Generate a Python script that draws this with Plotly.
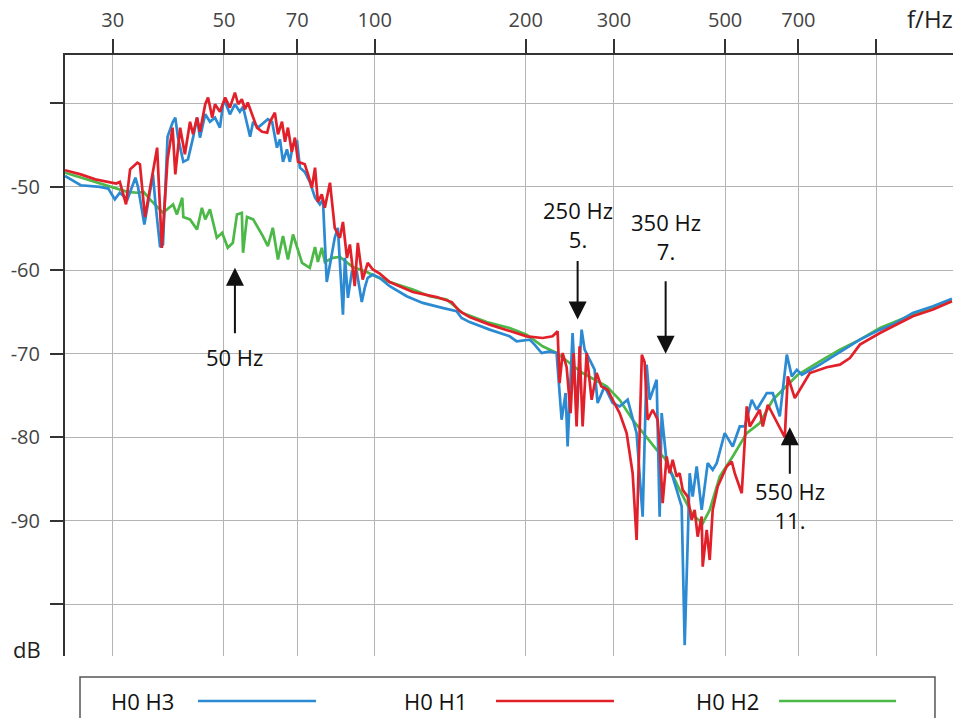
import math
import plotly.graph_objects as go

# ---------------- data ----------------
freq_h1 = [24.1, 25.9, 27.7, 29.7, 30.5, 31.0, 31.9, 32.5, 33.6, 34.0, 34.8, 36.8, 37.6, 38.6, 39.5, 40.0,
           40.9, 41.8, 42.8, 43.4, 44.2, 44.8, 45.9, 46.5, 47.4, 48.0, 49.1, 50.3, 51.4, 52.6, 53.4, 54.3,
           55.1, 55.8, 56.9, 58.2, 59.6, 61.0, 61.8, 63.2, 64.1, 65.3, 66.2, 67.1, 68.3, 69.3, 70.3, 72.5,
           73.6, 74.9, 76.0, 77.0, 78.4, 79.5, 81.4, 83.2, 85.2, 86.4, 88.0, 89.2, 91.2, 92.5, 94.6, 96.8,
           99.1, 102.3, 107.1, 119.1, 132.9, 142.4, 147.7, 154.6, 169.5, 185.8, 200.9, 216.2, 226.3, 231.6,
           233.7, 237.0, 241.4, 245.8, 249.3, 252.7, 256.2, 259.8, 264.6, 270.8, 277.1, 283.0, 291.4, 298.2,
           307.9, 318.0, 326.9, 332.9, 341.0, 345.4, 350.2, 358.4, 366.7, 370.1, 375.2, 382.2, 387.5, 392.9,
           400.1, 405.7, 411.4, 420.9, 428.7, 434.7, 440.7, 448.9, 451.0, 459.4, 465.8, 472.2, 483.2, 503.6,
           515.3, 522.5, 539.6, 552.2, 559.8, 586.2, 594.3, 608.2, 657.6, 666.7, 688.5, 704.6, 737.7, 797.7,
           846.9, 886.8, 928.5, 1018, 1080, 1184, 1299, 1417]
db_h1 = [-48.0, -48.5, -49.1, -49.5, -49.6, -49.4, -52.1, -47.9, -47.1, -47.3, -53.6, -45.3, -57.3, -46.7, -42.9, -48.5,
         -42.9, -46.1, -42.2, -43.7, -41.7, -43.4, -40.1, -39.3, -41.7, -40.1, -41.0, -39.3, -40.5, -38.7, -40.1, -39.5,
         -40.7, -39.9, -41.3, -42.9, -43.4, -43.5, -42.2, -41.1, -43.7, -42.2, -44.6, -42.9, -45.8, -44.1, -47.0, -47.3,
         -48.5, -50.1, -47.7, -51.8, -50.9, -52.5, -49.5, -54.9, -56.1, -54.2, -58.5, -56.9, -61.9, -56.7, -61.1, -59.1,
         -59.9, -60.4, -61.4, -62.6, -63.2, -63.8, -64.9, -65.6, -66.5, -67.3, -67.9, -68.1, -67.9, -67.3,
         -73.5, -69.9, -71.6, -77.1, -69.9, -78.7, -69.1, -78.7, -69.9, -75.5, -72.3, -73.9, -74.3, -75.5,
         -77.1, -79.5, -84.3, -92.3, -70.1, -71.0, -77.9, -76.7, -77.9, -81.1, -87.9, -82.3, -84.3, -82.7,
         -84.7, -84.3, -86.3, -87.1, -89.9, -88.7, -91.9, -89.5, -95.5, -91.1, -94.7, -88.7, -85.9, -83.5,
         -82.9, -84.3, -86.7, -76.3, -78.7, -76.7, -78.7, -76.1, -80.0, -72.7, -75.3, -74.3, -72.3, -71.6,
         -71.3, -70.5, -68.9, -67.5, -66.7, -65.5, -64.7, -63.7]

freq_h3 = [24.1, 25.9, 28.3, 29.4, 30.3, 31.0, 32.1, 33.3, 33.7, 34.7, 36.1, 36.5, 37.3, 37.8, 38.6, 39.5,
           40.0, 40.5, 41.5, 42.4, 43.4, 44.2, 44.8, 45.9, 46.9, 48.0, 49.1, 49.8, 50.3, 51.4, 52.6, 53.8,
           54.6, 56.4, 57.2, 58.5, 61.2, 62.4, 63.8, 64.7, 65.6, 66.8, 67.7, 68.7, 70.0, 70.9, 72.5, 74.2,
           76.0, 77.7, 78.8, 80.2, 81.4, 83.2, 84.4, 86.4, 87.2, 88.4, 90.0, 92.1, 94.2, 95.5, 96.8, 99.1,
           102.3, 107.1, 115.8, 124.6, 136.4, 145.6, 149.0, 154.6, 169.5, 185.8, 191.9, 203.7, 208.4, 215.2,
           223.2, 230.5, 235.9, 240.3, 242.5, 248.1, 252.7, 258.6, 262.2, 274.5, 278.3, 287.4, 298.2, 307.9,
           319.5, 332.9, 342.3, 348.6, 353.5, 365.0, 370.1, 373.5, 382.2, 392.9, 402.0, 409.5, 415.2, 424.8,
           430.7, 438.7, 448.9, 461.5, 472.2, 481.0, 499.0, 517.7, 534.7, 547.1, 565.0, 578.1, 605.3, 622.3,
           642.6, 663.7, 679.1, 695.0, 711.1, 772.4, 846.9, 928.5, 1018, 1080, 1184, 1299, 1417]
db_h3 = [-48.7, -49.8, -50.0, -50.2, -51.5, -50.7, -51.5, -48.9, -50.0, -54.5, -48.5, -51.9, -57.2, -56.9, -44.0, -42.3,
         -41.7, -44.1, -47.0, -46.7, -44.1, -41.7, -44.1, -41.3, -42.2, -41.7, -42.9, -40.1, -39.8, -41.3, -40.1, -41.0,
         -40.4, -44.0, -42.2, -42.9, -41.9, -42.2, -45.3, -44.3, -47.0, -45.5, -47.0, -44.9, -44.6, -47.7, -48.2, -49.4,
         -51.3, -52.1, -51.5, -61.4, -59.3, -56.1, -54.9, -65.3, -58.5, -63.3, -60.2, -60.2, -63.8, -62.1, -60.9, -60.5,
         -60.9, -61.9, -63.1, -63.9, -64.5, -64.9, -65.7, -66.2, -67.1, -67.9, -68.5, -68.3, -68.9, -69.9,
         -69.7, -69.9, -77.9, -74.7, -81.1, -67.5, -77.1, -67.1, -69.5, -71.9, -75.9, -73.9, -75.9, -76.3,
         -75.5, -79.5, -89.5, -71.3, -75.5, -73.1, -89.5, -77.1, -83.1, -84.7, -86.7, -88.3, -104.9, -84.3,
         -87.1, -83.5, -88.7, -83.1, -83.9, -83.1, -79.5, -81.1, -78.7, -78.7, -75.5, -76.7, -74.7, -74.7,
         -77.5, -70.1, -72.7, -71.9, -72.5, -71.3, -69.8, -68.3, -67.1, -66.5, -65.1, -64.3, -63.4]

freq_h2 = [24.1, 30.0, 32.1, 33.6, 34.6, 35.6, 37.3, 37.8, 39.6, 40.3, 41.3, 41.5, 42.8, 44.2, 45.2, 45.9,
           46.9, 48.4, 49.6, 50.9, 52.1, 53.1, 54.3, 54.6, 55.6, 57.2, 59.8, 61.2, 62.6, 64.1, 65.6, 67.1,
           68.7, 71.6, 74.2, 76.0, 77.0, 78.4, 79.5, 82.5, 85.2, 90.4, 96.4, 100.9, 107.1, 119.1, 128.7, 139.1,
           149.7, 167.2, 185.8, 200.9, 216.2, 230.5, 244.7, 259.8, 290.1, 307.9, 326.9, 348.6, 365.1, 378.7,
           405.7, 430.7, 451.0, 465.8, 487.7, 517.7, 552.2, 586.2, 622.3, 651.5, 698.1, 772.4, 846.9, 928.5,
           1018, 1184, 1417]
db_h2 = [-48.3, -50.0, -50.6, -50.7, -50.6, -51.5, -52.7, -53.1, -52.1, -53.3, -51.3, -53.6, -53.9, -55.1, -52.5, -53.9,
         -52.7, -56.1, -55.5, -57.3, -56.7, -53.3, -53.1, -57.9, -53.6, -53.9, -55.9, -57.1, -54.9, -58.7, -55.9, -58.7,
         -55.7, -59.1, -59.7, -57.2, -59.0, -57.3, -59.0, -58.5, -58.4, -59.6, -60.2, -60.8, -61.4, -62.3, -63.1, -63.5,
         -65.1, -66.2, -66.9, -67.7, -69.1, -69.9, -71.1, -72.3, -73.9, -75.5, -77.9, -80.0, -81.5, -82.5,
         -86.3, -89.3, -90.3, -88.7, -84.7, -82.3, -79.5, -78.3, -75.5, -74.3, -72.5, -70.9, -69.5, -68.3,
         -66.9, -65.3, -63.7]

x_ticks = [30, 50, 70, 100, 200, 300, 500, 700, 1000]
x_labels = ["30", "50", "70", "100", "200", "300", "500", "700", ""]
y_ticks = [-40, -50, -60, -70, -80, -90, -100]
y_labels = ["", "-50", "-60", "-70", "-80", "-90", ""]

series_names = ["H0 H3", "H0 H1", "H0 H2"]
BLUE, RED, GREEN = "#2b8ad2", "#e2202a", "#4bb847"

# markers: (label, order, freq, dB at arrow tip)
marks = [("50 Hz", "", 52.6, -59.7), ("250 Hz", "5.", 253.9, -65.9),
         ("350 Hz", "7.", 380.4, -70.0), ("550 Hz", "11.", 672.9, -78.8)]

FONT = "Open Sans"
TXT = dict(family=FONT, size=22, color="#111")

fig = go.Figure()
fig.add_trace(go.Scatter(x=freq_h2, y=db_h2, mode="lines", name=series_names[2],
                         line=dict(color=GREEN, width=2.7), showlegend=False))
fig.add_trace(go.Scatter(x=freq_h3, y=db_h3, mode="lines", name=series_names[0],
                         line=dict(color=BLUE, width=2.7), showlegend=False))
fig.add_trace(go.Scatter(x=freq_h1, y=db_h1, mode="lines", name=series_names[1],
                         line=dict(color=RED, width=2.7), showlegend=False))

fig.update_xaxes(type="log", side="top", range=[math.log10(24.1), math.log10(1424)],
                 tickvals=x_ticks, ticktext=x_labels, ticks="outside", ticklen=14, tickwidth=2,
                 tickcolor="#333", showline=True, linewidth=2, linecolor="#333",
                 showgrid=True, gridcolor="#b4b4b4", gridwidth=1, zeroline=False,
                 tickfont=dict(family=FONT, size=20, color="#444"), ticklabelstandoff=4)
fig.update_yaxes(range=[-106.2, -34.2], tickvals=y_ticks, ticktext=y_labels, ticks="outside",
                 ticklen=13, tickwidth=2, tickcolor="#333", showline=True, linewidth=2, linecolor="#333",
                 showgrid=True, gridcolor="#b4b4b4", gridwidth=1, zeroline=False,
                 tickfont=dict(family=FONT, size=20, color="#444"), ticklabelstandoff=6)

ann = []
# axis titles
ann.append(dict(text="f/Hz", xref="paper", yref="paper", x=0.974, y=1.061, xanchor="center",
                yanchor="middle", showarrow=False, font=dict(family=FONT, size=24, color="#222")))
ann.append(dict(text="dB", xref="paper", yref="paper", x=-0.0428, y=0.012, xanchor="center",
                yanchor="middle", showarrow=False, font=dict(family=FONT, size=22, color="#222")))

arrow_style = dict(showarrow=True, arrowhead=2, arrowsize=1.8, arrowwidth=2, arrowcolor="#111",
                   ax=0, axref="pixel", ayref="pixel", text="")
# arrow tail offsets (px) and label offsets (px)
arrow_ay = [67, -60, -74, 48]
label_shift = [-89, 95, 117, -78]
for (lab, order, f, d), ay, ys in zip(marks, arrow_ay, label_shift):
    ann.append(dict(x=math.log10(f), y=d, ay=ay, **arrow_style))
    txt = lab if not order else lab + "<br>" + order
    ann.append(dict(x=math.log10(f), y=d, showarrow=False, yshift=ys, text=txt,
                    xanchor="center", yanchor="middle", align="center", font=TXT))

# custom legend (text followed by line sample)
legend_y = -0.0749
legend_text_x = [0.0878, 0.4167, 0.7455]
legend_line_x = [(0.1498, 0.2827), (0.4854, 0.6182), (0.8041, 0.9358)]
legend_colors = [BLUE, RED, GREEN]
shapes = [dict(type="rect", xref="paper", yref="paper", x0=0.0169, x1=0.9797, y0=-0.13, y1=-0.0349,
               line=dict(color="#555", width=1.5), fillcolor="rgba(0,0,0,0)")]
for name, tx, (lx0, lx1), c in zip(series_names, legend_text_x, legend_line_x, legend_colors):
    ann.append(dict(text=name, xref="paper", yref="paper", x=tx, y=legend_y, xanchor="center",
                    yanchor="middle", showarrow=False, font=TXT))
    shapes.append(dict(type="line", xref="paper", yref="paper", x0=lx0, x1=lx1, y0=legend_y, y1=legend_y,
                       line=dict(color=c, width=2.7)))

fig.update_layout(width=955, height=718, margin=dict(l=65, r=2, t=55, b=62),
                  paper_bgcolor="white", plot_bgcolor="white", annotations=ann, shapes=shapes,
                  font=dict(family=FONT), showlegend=False)

fig.write_html("out.html", config={"displayModeBar": False},
               post_script="document.body.style.margin='0';document.body.style.overflow='hidden';")
